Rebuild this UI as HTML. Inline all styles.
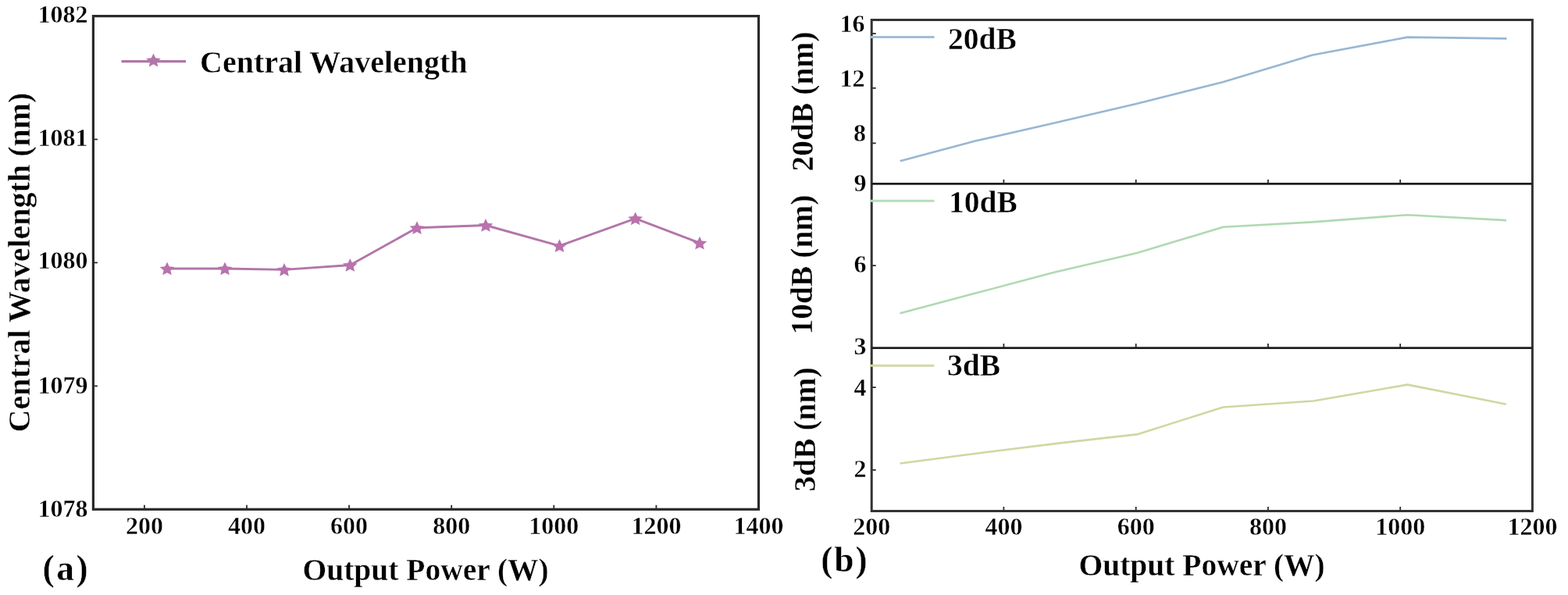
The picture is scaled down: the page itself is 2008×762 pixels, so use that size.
<!DOCTYPE html>
<html><head><meta charset="utf-8"><title>Figure</title><style>
html,body{margin:0;padding:0;background:#fff;width:2008px;height:762px;overflow:hidden;}
svg{display:block;}
#fig{width:2008px;height:762px;}
text{font-family:"Liberation Serif","Times New Roman",serif;font-weight:bold;fill:#000;stroke:#fff;stroke-width:0.4px;}
</style></head><body><div id="fig">
<svg width="2008" height="762" viewBox="0 0 2008 762">
<rect width="2008" height="762" fill="#fff"/>
<g id="panel-a">
<g stroke="#2c2c2c" stroke-width="1.8"><line x1="184.9" y1="652.3" x2="184.9" y2="646.8"/><line x1="316.0" y1="652.3" x2="316.0" y2="646.8"/><line x1="447.1" y1="652.3" x2="447.1" y2="646.8"/><line x1="578.2" y1="652.3" x2="578.2" y2="646.8"/><line x1="709.3" y1="652.3" x2="709.3" y2="646.8"/><line x1="840.4" y1="652.3" x2="840.4" y2="646.8"/><line x1="971.5" y1="652.3" x2="971.5" y2="646.8"/><line x1="119.4" y1="494.4" x2="124.9" y2="494.4"/><line x1="119.4" y1="336.4" x2="124.9" y2="336.4"/><line x1="119.4" y1="178.5" x2="124.9" y2="178.5"/></g>
<rect x="119.4" y="20.6" width="852.1" height="631.7" fill="none" stroke="#2a2a2a" stroke-width="3.2"/>
<polyline points="214,344 288,344 364,345.4 448.3,339.5 534,291.8 622,288.5 716.5,314.8 813.7,279.9 896,311.2" fill="none" stroke="#b276a9" stroke-width="2.9" stroke-linejoin="round"/>
<g fill="#b972ae"><path d="M214.0,335.5 L216.7,341.2 L223.4,341.9 L218.4,346.2 L219.8,352.3 L214.0,349.2 L208.2,352.3 L209.6,346.2 L204.6,341.9 L211.3,341.2Z"/><path d="M288.0,335.5 L290.7,341.2 L297.4,341.9 L292.4,346.2 L293.8,352.3 L288.0,349.2 L282.2,352.3 L283.6,346.2 L278.6,341.9 L285.3,341.2Z"/><path d="M364.0,336.9 L366.7,342.6 L373.4,343.3 L368.4,347.6 L369.8,353.7 L364.0,350.6 L358.2,353.7 L359.6,347.6 L354.6,343.3 L361.3,342.6Z"/><path d="M448.3,331.0 L451.0,336.7 L457.7,337.4 L452.7,341.7 L454.1,347.8 L448.3,344.7 L442.5,347.8 L443.9,341.7 L438.9,337.4 L445.6,336.7Z"/><path d="M534.0,283.3 L536.7,289.0 L543.4,289.7 L538.4,294.0 L539.8,300.1 L534.0,297.0 L528.2,300.1 L529.6,294.0 L524.6,289.7 L531.3,289.0Z"/><path d="M622.0,280.0 L624.7,285.7 L631.4,286.4 L626.4,290.7 L627.8,296.8 L622.0,293.7 L616.2,296.8 L617.6,290.7 L612.6,286.4 L619.3,285.7Z"/><path d="M716.5,306.3 L719.2,312.0 L725.9,312.7 L720.9,317.0 L722.3,323.1 L716.5,320.0 L710.7,323.1 L712.1,317.0 L707.1,312.7 L713.8,312.0Z"/><path d="M813.7,271.4 L816.4,277.1 L823.1,277.8 L818.1,282.1 L819.5,288.2 L813.7,285.1 L807.9,288.2 L809.3,282.1 L804.3,277.8 L811.0,277.1Z"/><path d="M896.0,302.7 L898.7,308.4 L905.4,309.1 L900.4,313.4 L901.8,319.5 L896.0,316.4 L890.2,319.5 L891.6,313.4 L886.6,309.1 L893.3,308.4Z"/></g>
<line x1="155.5" y1="78.7" x2="238" y2="78.7" stroke="#b276a9" stroke-width="3.2"/>
<path d="M196.5,68.6 L199.2,74.3 L205.9,75.0 L200.9,79.3 L202.3,85.4 L196.5,82.3 L190.7,85.4 L192.1,79.3 L187.1,75.0 L193.8,74.3Z" fill="#b276a9"/>
<text x="256" y="92.5" font-size="40">Central Wavelength</text>
<g font-size="32"><text x="112.5" y="661.5" text-anchor="end">1078</text><text x="112.5" y="503.8" text-anchor="end">1079</text><text x="112.5" y="344.4" text-anchor="end">1080</text><text x="112.5" y="187.2" text-anchor="end">1081</text><text x="112.5" y="28.5" text-anchor="end">1082</text></g>
<g font-size="32"><text x="184.9" y="683.5" text-anchor="middle">200</text><text x="316.0" y="683.5" text-anchor="middle">400</text><text x="447.1" y="683.5" text-anchor="middle">600</text><text x="578.2" y="683.5" text-anchor="middle">800</text><text x="709.3" y="683.5" text-anchor="middle">1000</text><text x="840.4" y="683.5" text-anchor="middle">1200</text><text x="971.5" y="683.5" text-anchor="middle">1400</text></g>
<text transform="translate(38,336) rotate(-90)" text-anchor="middle" font-size="40">Central Wavelength (nm)</text>
<text x="387.5" y="742.5" font-size="39.5">Output Power (W)</text>
<text x="54.5" y="743.3" font-size="45.5" letter-spacing="2.6">(a)</text>
</g>
<g id="panel-b">
<g stroke="#2c2c2c" stroke-width="1.8"><line x1="1285.4" y1="235.4" x2="1285.4" y2="229.9"/><line x1="1454.7" y1="235.4" x2="1454.7" y2="229.9"/><line x1="1623.9" y1="235.4" x2="1623.9" y2="229.9"/><line x1="1793.2" y1="235.4" x2="1793.2" y2="229.9"/><line x1="1285.4" y1="445.6" x2="1285.4" y2="440.1"/><line x1="1454.7" y1="445.6" x2="1454.7" y2="440.1"/><line x1="1623.9" y1="445.6" x2="1623.9" y2="440.1"/><line x1="1793.2" y1="445.6" x2="1793.2" y2="440.1"/><line x1="1285.4" y1="654.5" x2="1285.4" y2="649.0"/><line x1="1454.7" y1="654.5" x2="1454.7" y2="649.0"/><line x1="1623.9" y1="654.5" x2="1623.9" y2="649.0"/><line x1="1793.2" y1="654.5" x2="1793.2" y2="649.0"/><line x1="1116.2" y1="43" x2="1121.7" y2="43"/><line x1="1116.2" y1="112.8" x2="1121.7" y2="112.8"/><line x1="1116.2" y1="183.4" x2="1121.7" y2="183.4"/><line x1="1116.2" y1="340.1" x2="1121.7" y2="340.1"/><line x1="1116.2" y1="496.1" x2="1121.7" y2="496.1"/><line x1="1116.2" y1="601.9" x2="1121.7" y2="601.9"/></g>
<rect x="1116.2" y="25.5" width="846.2" height="629.0" fill="none" stroke="#333" stroke-width="3"/>
<line x1="1116.2" y1="235.4" x2="1962.4" y2="235.4" stroke="#1e1e1e" stroke-width="2.6"/>
<line x1="1116.2" y1="445.6" x2="1962.4" y2="445.6" stroke="#1e1e1e" stroke-width="2.6"/>
<polyline points="1152.7,206.2 1249,180.6 1347,158.2 1456,132.7 1566.4,105 1680.6,70.5 1802.5,47.6 1929.5,49.4" fill="none" stroke="#98b7d3" stroke-width="2.6" stroke-linejoin="round"/>
<polyline points="1152.5,401.3 1249,375.6 1349,349 1456,324 1566.4,290.8 1681,284.4 1802.4,275.2 1929,282.1" fill="none" stroke="#b0d9b2" stroke-width="2.6" stroke-linejoin="round"/>
<polyline points="1152.6,593.5 1263.7,579 1360,567.1 1457.3,556.1 1566.1,521.5 1682.2,513.5 1802.5,492.6 1929,517.7" fill="none" stroke="#d2d6a2" stroke-width="2.6" stroke-linejoin="round"/>
<line x1="1114" y1="47.4" x2="1196.5" y2="47.4" stroke="#a0bdd7" stroke-width="3"/>
<line x1="1114" y1="257.2" x2="1196.5" y2="257.2" stroke="#b6ddbb" stroke-width="3"/>
<line x1="1114" y1="468.2" x2="1196.5" y2="468.2" stroke="#d3d7a6" stroke-width="3"/>
<g font-size="39.5">
<text x="1214" y="62.5">20dB</text>
<text x="1215" y="271.5">10dB</text>
<text x="1213" y="481">3dB</text>
</g>
<g font-size="32"><text x="1107.5" y="41" text-anchor="end">16</text><text x="1107.5" y="110.5" text-anchor="end">12</text><text x="1109" y="181" text-anchor="end">8</text><text x="1109.5" y="245" text-anchor="end">9</text><text x="1109.5" y="349" text-anchor="end">6</text><text x="1109.5" y="454" text-anchor="end">3</text><text x="1109.5" y="506.5" text-anchor="end">4</text><text x="1109.5" y="611" text-anchor="end">2</text><text x="1116.2" y="685.3" text-anchor="middle">200</text><text x="1285.4" y="685.3" text-anchor="middle">400</text><text x="1454.7" y="685.3" text-anchor="middle">600</text><text x="1623.9" y="685.3" text-anchor="middle">800</text><text x="1793.2" y="685.3" text-anchor="middle">1000</text><text x="1962.4" y="685.3" text-anchor="middle">1200</text></g>
<g font-size="39.5">
<text transform="translate(1040.5,130) rotate(-90)" text-anchor="middle">20dB (nm)</text>
<text transform="translate(1040,339) rotate(-90)" text-anchor="middle">10dB (nm)</text>
<text transform="translate(1044,550) rotate(-90)" text-anchor="middle">3dB (nm)</text>
</g>
<text x="1381.5" y="737" font-size="39.5">Output Power (W)</text>
<text x="1051.3" y="732.3" font-size="45.5" letter-spacing="1.9">(b)</text>
</g>
</svg></div>
</body></html>
